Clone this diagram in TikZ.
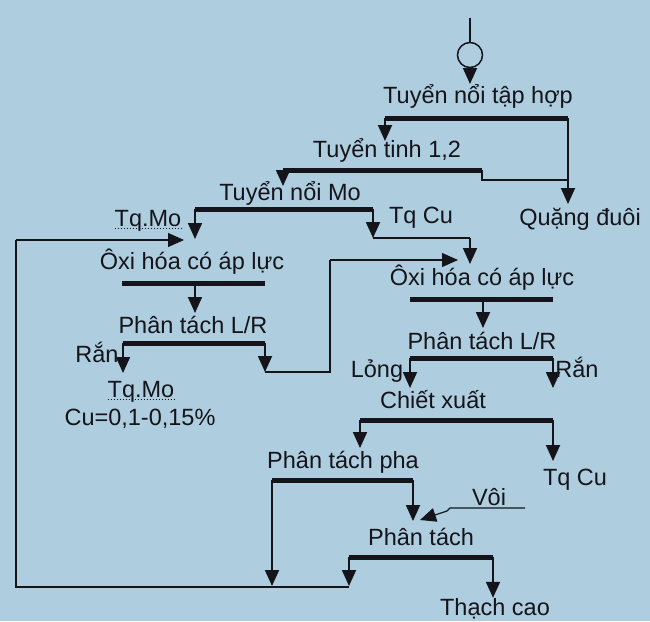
\documentclass[tikz,border=0pt]{standalone}
\usepackage{fontspec}
\setmainfont{Liberation Sans}
\usetikzlibrary{arrows.meta}
\definecolor{paper}{RGB}{174,206,223}
\definecolor{ink}{RGB}{20,20,26}

\begin{document}
\begin{tikzpicture}[x=1pt,y=-1pt,
    lbl/.style={inner sep=0pt,anchor=base,text=ink,font=\fontsize{23.5}{28}\selectfont},
    bar/.style={line width=5pt,draw=ink},
    flow/.style={line width=1.8pt,draw=ink,-{Triangle[width=14pt,length=16pt]}},
    thin/.style={line width=1.2pt,draw=ink},
    dotline/.style={line width=1pt,draw=ink,dotted}]
    \useasboundingbox (0,0) rectangle (650,621);
    \fill[paper] (0,0) rectangle (650,621);

    \node[lbl] (TNTH) at (478,103) {Tuyển nổi tập hợp};
    \node[lbl] (TT) at (387,157) {Tuyển tinh 1,2};
    \node[lbl] (TNMo) at (290,200) {Tuyển nổi Mo};
    \node[lbl] (TqMoA) at (148,226) {Tq.Mo};
    \node[lbl] (TqCuA) at (421,223) {Tq Cu};
    \node[lbl] (QD) at (580,225) {Quặng đuôi};
    \node[lbl] (OxiA) at (192,269) {Ôxi hóa có áp lực};
    \node[lbl] (PTA) at (193,333) {Phân tách L/R};
    \node[lbl] (RanA) at (97,362) {Rắn};
    \node[lbl] (TqMoB) at (141,397) {Tq.Mo};
    \node[lbl] (CuB) at (140,425) {Cu=0,1-0,15\%};
    \node[lbl] (OxiB) at (482,285) {Ôxi hóa có áp lực};
    \node[lbl] (PTB) at (482,349) {Phân tách L/R};
    \node[lbl] (Long) at (377,377) {Lỏng};
    \node[lbl] (RanB) at (577,377) {Rắn};
    \node[lbl] (CX) at (433,408) {Chiết xuất};
    \node[lbl] (TqCuB) at (575,485) {Tq Cu};
    \node[lbl] (PTP) at (343,468) {Phân tách pha};
    \node[lbl] (Voi) at (489,505) {Vôi};
    \node[lbl] (PT) at (421,545) {Phân tách};
    \node[lbl] (TC) at (495,615) {Thạch cao};

    \node[draw=ink,line width=1.5pt,circle,minimum size=25pt,inner sep=0pt] (pump) at (470,55) {};
    \coordinate (feed) at (470,18);
    \coordinate (inTNTH) at (470,84);

    \coordinate (b1l) at (385,118);
    \coordinate (b1r) at (568,118);
    \coordinate (inTT) at (385,141);
    \coordinate (inQD) at (568,204);
    \coordinate (b2l) at (283,170);
    \coordinate (b2r) at (482,170);
    \coordinate (inTNMo) at (283,186);
    \coordinate (t2a) at (482,180);
    \coordinate (t2b) at (568,180);
    \coordinate (b3l) at (195,209);
    \coordinate (b3r) at (373,209);
    \coordinate (outMo) at (195,239);
    \coordinate (outCu) at (373,238);
    \coordinate (cu1) at (470,238);
    \coordinate (inOxiB) at (470,264);

    \coordinate (b4l) at (122,283);
    \coordinate (b4m) at (195,283);
    \coordinate (b4r) at (265,283);
    \coordinate (inPTA) at (195,313);
    \coordinate (b5l) at (123,343);
    \coordinate (b5r) at (265,343);
    \coordinate (outRanA) at (123,373);
    \coordinate (outLongA) at (265,372);
    \coordinate (l1) at (330,372);
    \coordinate (l2) at (330,260);
    \coordinate (sideOxiB) at (458,260);

    \coordinate (b6l) at (410,299);
    \coordinate (b6m) at (483,299);
    \coordinate (b6r) at (553,299);
    \coordinate (inPTB) at (483,328);
    \coordinate (b7l) at (410,358);
    \coordinate (b7r) at (553,358);
    \coordinate (inCX) at (410,388);
    \coordinate (outRanB) at (553,388);
    \coordinate (b8l) at (360,420);
    \coordinate (b8r) at (553,420);
    \coordinate (inPTP) at (360,448);
    \coordinate (outTqCu) at (553,461);
    \coordinate (b9l) at (272,480);
    \coordinate (b9r) at (413,480);
    \coordinate (back1) at (272,586);
    \coordinate (inPT) at (413,521);
    \coordinate (v1) at (525,508);
    \coordinate (v2) at (450,508);
    \coordinate (v3) at (447,511);
    \coordinate (inVoi) at (420,520);
    \coordinate (b10l) at (349,557);
    \coordinate (b10r) at (493,557);
    \coordinate (back2) at (349,586);
    \coordinate (r0) at (349,587);
    \coordinate (r1) at (16,587);
    \coordinate (r2) at (16,240);
    \coordinate (sideOxiA) at (184,240);

    \draw[thin,line width=1.5pt] (feed) -- (pump);
    \draw[flow] (pump) -- (inTNTH);

    \draw[bar] (b1l) -- (b1r);
    \draw[flow] (b1l) -- (inTT);
    \draw[flow] (b1r) -- (inQD);
    \draw[bar] (b2l) -- (b2r);
    \draw[flow] (b2l) -- (inTNMo);
    \draw[thin] (b2r) -- (t2a) -- (t2b);
    \draw[bar] (b3l) -- (b3r);
    \draw[flow] (b3l) -- (outMo);
    \draw[flow] (b3r) -- (outCu);
    \draw[thin] (outCu) -- (cu1);
    \draw[flow] (cu1) -- (inOxiB);

    \draw[bar] (b4l) -- (b4r);
    \draw[flow] (b4m) -- (inPTA);
    \draw[bar] (b5l) -- (b5r);
    \draw[flow] (b5l) -- (outRanA);
    \draw[flow] (b5r) -- (outLongA);
    \draw[thin] (outLongA) -- (l1) -- (l2);
    \draw[flow,line width=1.2pt] (l2) -- (sideOxiB);

    \draw[bar] (b6l) -- (b6r);
    \draw[flow] (b6m) -- (inPTB);
    \draw[bar] (b7l) -- (b7r);
    \draw[flow] (b7l) -- (inCX);
    \draw[flow] (b7r) -- (outRanB);
    \draw[bar] (b8l) -- (b8r);
    \draw[flow] (b8l) -- (inPTP);
    \draw[flow] (b8r) -- (outTqCu);
    \draw[bar] (b9l) -- (b9r);
    \draw[flow] (b9l) -- (back1);
    \draw[flow] (b9r) -- (inPT);
    \draw[thin] (v1) -- (v2) -- (v3);
    \draw[flow,line width=1.2pt] (v3) -- (inVoi);
    \draw[bar] (b10l) -- (b10r);
    \draw[flow] (b10l) -- (back2);
    \draw[flow] (b10r) -- (TC.north -| b10r);
    \draw[thin] (r0) -- (r1) -- (r2);
    \draw[flow,line width=1.2pt] (r2) -- (sideOxiA);

    \draw[dotline] ([yshift=-2pt]TqMoA.base west) -- ([yshift=-2pt]TqMoA.base east);
    \draw[dotline] ([yshift=-2pt]TqMoB.base west) -- ([yshift=-2pt]TqMoB.base east);
\end{tikzpicture}
\end{document}
